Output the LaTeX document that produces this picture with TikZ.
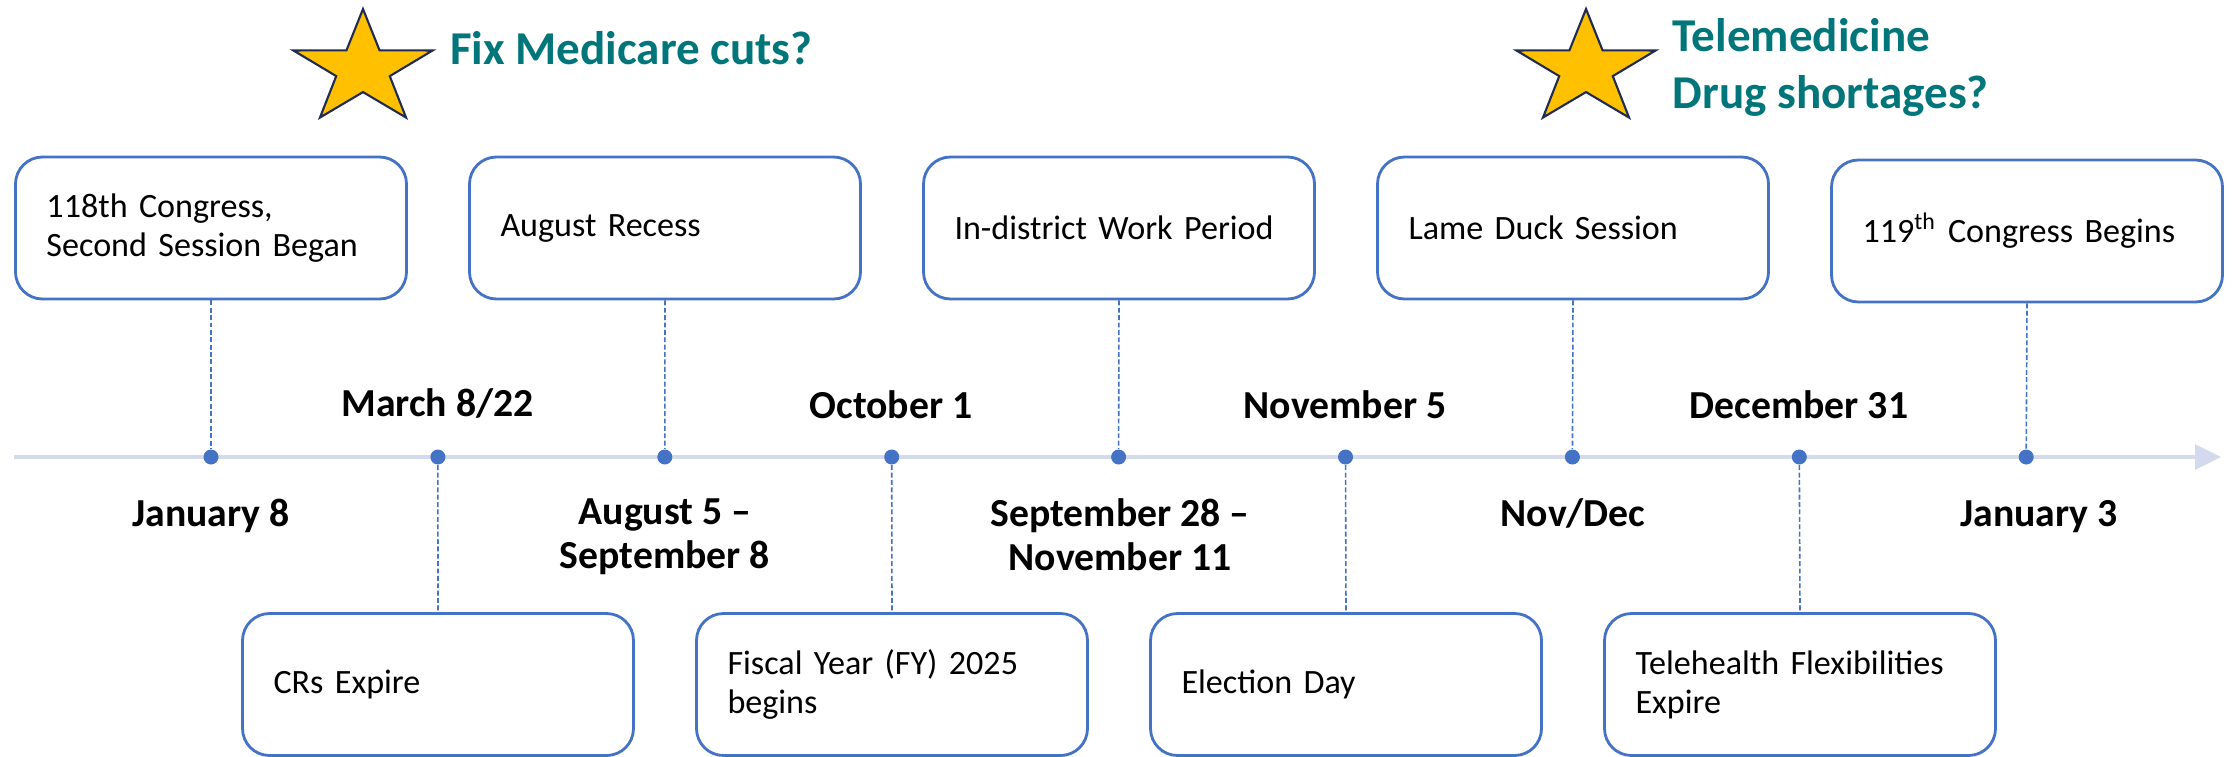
\documentclass[tikz,border=0pt]{standalone}
\usepackage{fontspec}
\setmainfont{Carlito}
\usepackage{xcolor}
\usetikzlibrary{positioning,arrows.meta,shapes.geometric}
\definecolor{evblue}{HTML}{4472C4}
\definecolor{axisgray}{HTML}{D3DAEE}
\definecolor{tealhead}{HTML}{00767A}
\definecolor{stargold}{HTML}{FFC000}
\definecolor{starrim}{HTML}{1F2C4F}

\begin{document}
\begin{tikzpicture}[
  every node/.style={inner sep=0pt},
  evbox/.style={draw=evblue,line width=0.8pt,rounded corners=0.27cm,fill=white,
                minimum width=3.91cm,minimum height=1.42cm,text width=3.29cm,
                inner xsep=0.31cm,align=left,font=\fontsize{9.7}{11.1}\selectfont},
  date/.style={font=\fontsize{11.3}{12.5}\selectfont\bfseries,align=center,anchor=north},
  dot/.style={circle,fill=evblue,minimum size=0.15cm},
  tick/.style={draw=evblue,line width=0.45pt,dash pattern=on 1.4pt off 0.7pt},
  hint/.style={font=\fontsize{13.4}{16.2}\selectfont\bfseries,text=tealhead,align=left},
  starmark/.style={star,star points=5,star point ratio=2.6,minimum size=1.2cm,
                   xscale=1.22,fill=stargold,draw=starrim,line width=0.6pt}
]
\useasboundingbox (0,0) rectangle (22.34,-7.56);
\def\ly{-4.57}                                % y of the time axis

% time axis
\coordinate (tstart) at (0.14,\ly);
\coordinate (tend)   at (22.21,\ly);
\draw[axisgray,line width=0.95pt,-{Triangle[length=0.26cm,width=0.25cm]}] (tstart) -- (tend);
\foreach \i in {1,...,9}{
  \node[dot] (d\i) at ({2.11+2.269*(\i-1)},\ly) {};
}

% events above the axis
\node[evbox] (tb1) at (2.11,  -2.28) {118th Congress,\\Second Session Began};
\node[evbox] (tb2) at (6.65,  -2.28) {August Recess};
\node[evbox] (tb3) at (11.19, -2.28) {In-district Work Period};
\node[evbox] (tb4) at (15.73, -2.28) {Lame Duck Session};
\node[evbox] (tb5) at (20.27, -2.31) {119\textsuperscript{th} Congress Begins};

% events below the axis
\node[evbox] (bb1) at (4.38,  -6.845) {CRs Expire};
\node[evbox] (bb2) at (8.92,  -6.845) {Fiscal Year (FY) 2025\\begins};
\node[evbox] (bb3) at (13.46, -6.845) {Election Day};
\node[evbox] (bb4) at (18.00, -6.845) {Telehealth Flexibilities\\Expire};

\foreach \b/\d in {tb1/d1, tb2/d3, tb3/d5, tb4/d7, tb5/d9}{
  \draw[tick] (\b.south) -- (\d);
}
\foreach \d/\b in {d2/bb1, d4/bb2, d6/bb3, d8/bb4}{
  \draw[tick] (\d) -- (\b.north);
}

% dates
\node[date] (dmar)  at (4.375, -3.88) {March 8/22};
\node[date] (doct)  at (8.91,  -3.90) {October 1};
\node[date] (dnov)  at (13.45, -3.90) {November 5};
\node[date] (ddec)  at (17.99, -3.90) {December 31};
\node[date] (djan)  at (2.11,  -4.98) {January 8};
\node[date] (daug)  at (6.65,  -4.98) {August 5 --\\September 8};
\node[date] (dsep)  at (11.20, -4.98) {September 28 --\\November 11};
\node[date] (dnd)   at (15.73, -4.98) {Nov/Dec};
\node[date] (djan3) at (20.39, -5.00) {January 3};

% open questions
\node[starmark] (star1) at (3.63, -0.69) {};
\node[hint,anchor=base west] (fix) at (4.495,-0.64) {Fix Medicare cuts?};
\node[starmark] (star2) at (15.86,-0.69) {};
\node[hint,anchor=north west] (tele) at (16.72,-0.18) {Telemedicine\\Drug shortages?};
\end{tikzpicture}
\end{document}
